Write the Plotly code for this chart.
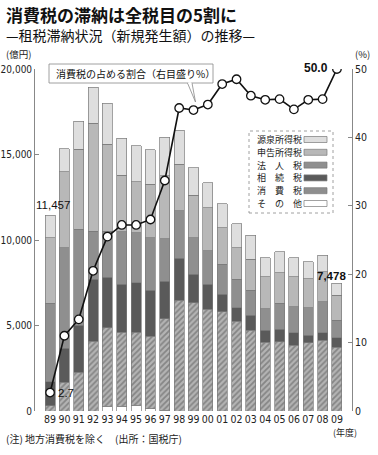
import plotly.graph_objects as go

years = ["89", "90", "91", "92", "93", "94", "95", "96", "97", "98", "99",
         "00", "01", "02", "03", "04", "05", "06", "07", "08", "09"]

# 億円
sonota = [0, 0, 0, 0, 280, 280, 340, 130, 50, 0, 0, 0, 0, 0, 0, 0, 0, 0, 0, 0, 0]
shohi = [310, 1690, 2270, 4090, 4590, 4330, 4270, 4250, 5350, 6490, 6330,
         5940, 5790, 5260, 4730, 4030, 4050, 3850, 3990, 4150, 3739]
sozoku = [1400, 1970, 2750, 3610, 2960, 2800, 2900, 2670, 2200, 2450, 1660,
          1470, 1040, 780, 860, 680, 720, 730, 430, 430, 551]
hojin = [4580, 5890, 5610, 2800, 2670, 3080, 2920, 3090, 2480, 2760, 2150,
         1950, 1750, 1660, 1460, 1270, 1520, 1520, 1620, 1810, 1010]
shinkoku = [3850, 4450, 4680, 6330, 5100, 3300, 2990, 3120, 3670, 2730, 2480,
            2540, 2150, 1850, 1820, 1880, 1800, 1760, 1700, 1740, 1460]
gensen = [1317, 1350, 1640, 2090, 2400, 2150, 2080, 2010, 2250, 1990, 1620,
          1460, 1400, 1410, 1400, 1110, 1230, 1110, 990, 970, 718]

# 消費税の占める割合 (%)
share = [2.7, 11.0, 13.4, 20.5, 25.5, 27.2, 27.2, 28.0, 33.7, 44.3, 44.0,
         44.8, 47.8, 48.5, 46.1, 45.5, 45.6, 44.1, 45.5, 45.6, 50.0]

left_ticks = [0, 5000, 10000, 15000, 20000]
left_labels = ["0", "5,000", "10,000", "15,000", "20,000"]
right_ticks = [0, 10, 20, 30, 40, 50]

legend_names = ["源泉所得税", "申告所得税", "法　人　税", "相　続　税", "消　費　税", "そ　の　他"]

JP = "Noto Sans CJK JP"
NUM = "Liberation Sans Narrow, DejaVu Sans Condensed, Arial"
OUT = "#7a7a7a"

fig = go.Figure()

series = [
    ("その他", sonota, dict(color="#ffffff")),
    ("消費税", shohi, dict(color="#b4b4b4",
                          pattern=dict(shape="/", fgcolor="#555555", bgcolor="#b4b4b4",
                                       size=4, solidity=0.45))),
    ("相続税", sozoku, dict(color="#5a5a5a")),
    ("法人税", hojin, dict(color="#8f8f8f")),
    ("申告所得税", shinkoku, dict(color="#b8b8b8")),
    ("源泉所得税", gensen, dict(color="#dedede")),
]
for name, vals, mk in series:
    mk = dict(mk)
    mk["line"] = dict(color=OUT, width=0.7)
    fig.add_trace(go.Bar(x=years, y=vals, name=name, marker=mk, showlegend=False))

fig.add_trace(go.Scatter(
    x=years, y=share, yaxis="y2", mode="lines+markers", showlegend=False,
    line=dict(color="#111111", width=1.6),
    marker=dict(symbol="circle", size=8.5, color="white",
                line=dict(color="#111111", width=1.3)),
))

W, H = 378, 455
L, R, T, B = 35, 26, 69, 44
pw, ph = W - L - R, H - T - B


def px(x):
    return (x - L) / pw


def py(y):
    return (H - B - y) / ph


i_first = years.index("89")
i_last = years.index("09")

shapes = []
annotations = []

# title texts
annotations.append(dict(text="<b>消費税の滞納は全税目の5割に</b>", xref="paper", yref="paper",
                        x=px(4), y=py(15), xanchor="left", yanchor="middle", showarrow=False,
                        font=dict(family=JP, size=17, color="#111")))
annotations.append(dict(text="—租税滞納状況（新規発生額）の推移—", xref="paper", yref="paper",
                        x=px(4), y=py(35), xanchor="left", yanchor="middle", showarrow=False,
                        font=dict(family=JP, size=14, color="#111")))
annotations.append(dict(text="(億円)", xref="paper", yref="paper",
                        x=px(4), y=py(54), xanchor="left", yanchor="middle", showarrow=False,
                        font=dict(family=JP, size=9.5, color="#222")))
annotations.append(dict(text="(%)", xref="paper", yref="paper",
                        x=px(372), y=py(54), xanchor="right", yanchor="middle", showarrow=False,
                        font=dict(family=JP, size=9.5, color="#222")))
annotations.append(dict(text="(年度)", xref="paper", yref="paper",
                        x=px(359), y=py(432), xanchor="right", yanchor="middle", showarrow=False,
                        font=dict(family=JP, size=9, color="#222")))
annotations.append(dict(text="(注) 地方消費税を除く　(出所：国税庁)", xref="paper", yref="paper",
                        x=px(4), y=py(438), xanchor="left", yanchor="middle", showarrow=False,
                        font=dict(family=JP, size=10, color="#222")))

# value labels
total_first = sonota[0] + shohi[0] + sozoku[0] + hojin[0] + shinkoku[0] + gensen[0]
total_last = sonota[-1] + shohi[-1] + sozoku[-1] + hojin[-1] + shinkoku[-1] + gensen[-1]
annotations.append(dict(text=f"{total_first:,}", x=i_first, y=total_first, xref="x", yref="y",
                        xshift=3, yshift=2, xanchor="center", yanchor="bottom", showarrow=False,
                        font=dict(family="Liberation Sans, Arial", size=11.5, color="#111")))
annotations.append(dict(text=f"<b>{total_last:,}</b>", x=i_last, y=total_last, xref="x", yref="y",
                        xshift=-5, yshift=-1, xanchor="center", yanchor="bottom", showarrow=False,
                        font=dict(family="Liberation Sans, Arial", size=11.5, color="#111")))
annotations.append(dict(text=f"{share[0]}", x=i_first, y=share[0], xref="x", yref="y2", xshift=6,
                        xanchor="left", yanchor="middle", showarrow=False,
                        font=dict(family="Liberation Sans, Arial", size=11.5, color="#111")))
annotations.append(dict(text=f"<b>{share[-1]:.1f}</b>", x=i_last, y=share[-1], xref="x", yref="y2",
                        xshift=-7, yshift=1, xanchor="right", yanchor="middle", showarrow=False,
                        font=dict(family="Liberation Sans, Arial", size=12, color="#111")))

# callout box
shapes.append(dict(type="rect", xref="paper", yref="paper", x0=px(49), x1=px(213), y0=py(83), y1=py(64),
                   line=dict(color="#888", width=0.8), fillcolor="white", layer="above"))
shapes.append(dict(type="path", xref="paper", yref="paper",
                   path=f"M {px(187.5)},{py(83)} L {px(195.5)},{py(102)} L {px(192)},{py(83)}",
                   line=dict(color="#888", width=0.8), fillcolor="white", layer="above"))
shapes.append(dict(type="line", xref="paper", yref="paper", x0=px(188.3), x1=px(191.3),
                   y0=py(83), y1=py(83), line=dict(color="white", width=1.6), layer="above"))
annotations.append(dict(text="消費税の占める割合（右目盛り%）", xref="paper", yref="paper",
                        x=px(54), y=py(73.5), xanchor="left", yanchor="middle", showarrow=False,
                        font=dict(family=JP, size=10, color="#111")))

# legend
shapes.append(dict(type="rect", xref="paper", yref="paper", x0=px(249), x1=px(333), y0=py(213), y1=py(131),
                   line=dict(color="#888", width=0.8, dash="dot"), fillcolor="white", layer="above"))
leg_fill = ["#dedede", "#b8b8b8", "#8f8f8f", "#5a5a5a", "#8e8e8e", "#ffffff"]
for i, (nm, fc) in enumerate(zip(legend_names, leg_fill)):
    yc = 139.5 + i * 12.8
    annotations.append(dict(text=nm, xref="paper", yref="paper", x=px(255), y=py(yc),
                            xanchor="left", yanchor="middle", showarrow=False,
                            font=dict(family=JP, size=9, color="#222")))
    shapes.append(dict(type="rect", xref="paper", yref="paper", x0=px(304), x1=px(327),
                       y0=py(yc + 3), y1=py(yc - 3), line=dict(color=OUT, width=0.7),
                       fillcolor=fc, layer="above"))

pad = 1.05
fig.update_layout(
    width=W, height=H,
    margin=dict(l=L, r=R, t=T, b=B, autoexpand=False),
    paper_bgcolor="white", plot_bgcolor="white",
    barmode="stack", bargap=0.3,
    showlegend=False,
    hovermode=False,
    xaxis=dict(type="category", range=[-pad, len(years) - 1 + pad], autorange=False,
               automargin=False, showline=False, ticks="", showgrid=False,
               tickfont=dict(family=NUM, size=10.5, color="#222"), ticklabelstandoff=0),
    yaxis=dict(range=[0, 20000], tickvals=left_ticks, ticktext=left_labels, automargin=False,
               showline=True, linecolor="#888", linewidth=0.8, ticks="inside", ticklen=4,
               tickcolor="#888", showgrid=False, zeroline=False,
               tickfont=dict(family=NUM, size=10, color="#222")),
    yaxis2=dict(range=[0, 50], tickvals=right_ticks, overlaying="y", side="right", automargin=False,
                showline=True, linecolor="#888", linewidth=0.8, ticks="inside", ticklen=4,
                tickcolor="#888", showgrid=False, zeroline=False,
                tickfont=dict(family=NUM, size=10.5, color="#222")),
    shapes=shapes,
    annotations=annotations,
)

fig.write_html("out.html",
               config={"displayModeBar": False},
               post_script="document.body.style.margin='0';document.body.style.overflow='hidden';")
